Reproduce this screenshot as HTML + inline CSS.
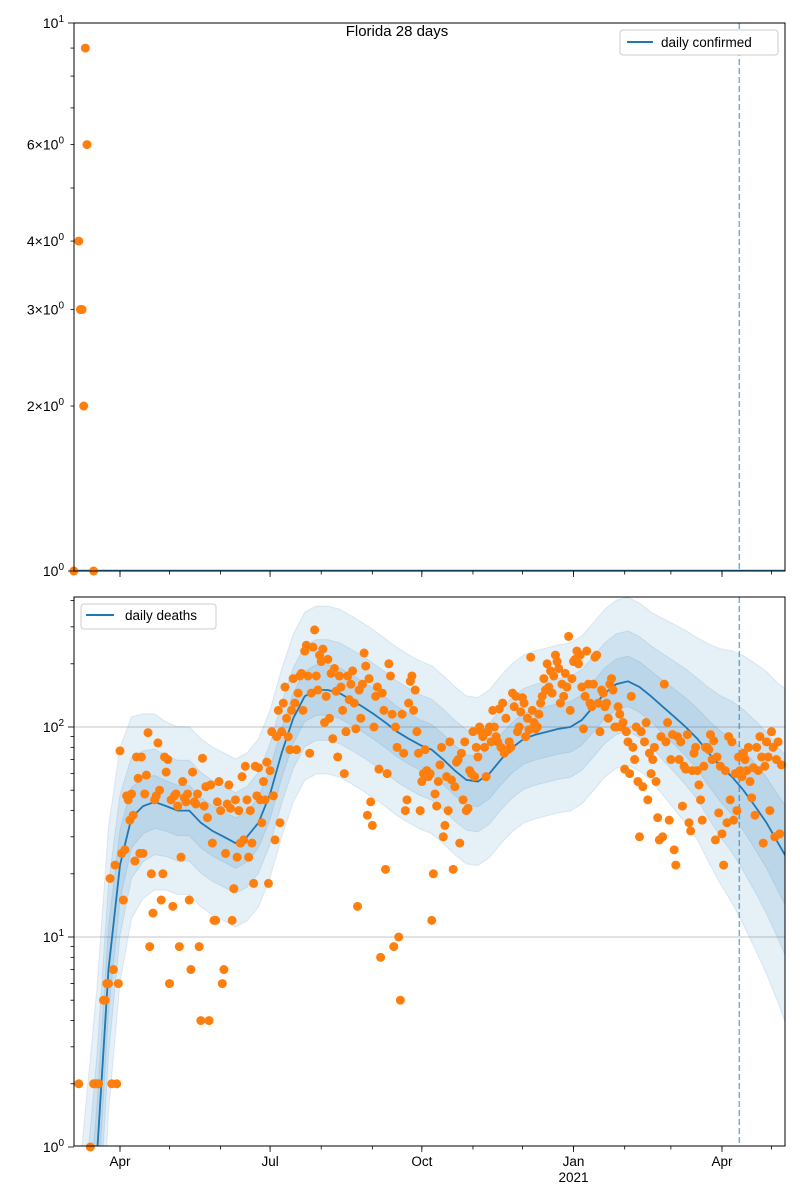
<!DOCTYPE html>
<html><head><meta charset="utf-8"><style>
body{margin:0;background:#fff;}
svg{display:block;font-family:"Liberation Sans","DejaVu Sans",sans-serif;}
</style></head><body>
<svg id="chart" width="800" height="1200" viewBox="0 0 800 1200" xmlns="http://www.w3.org/2000/svg">
<defs>
<clipPath id="clipTop"><rect x="74" y="23" width="711" height="548"/></clipPath>
<clipPath id="clipBot"><rect x="74" y="597" width="711" height="549"/></clipPath>
</defs>
<g id="topPanel"></g><g id="botPanel"></g>
</svg>
<script>
// ---- data ----
const monthTickDays = [28,58,89,119,150,181,211,242,272,303,334,362,393,423];
const majorTickDays = [28,119,211,303,393];
const majorTickLabels = ["Apr","Jul","Oct","Jan","Apr"];
const forecastDay = 403.5;
// top: daily confirmed (sparse points)
const confirmedDays = [0,3,4,5,6,7,8,12];
const confirmedVals = [1,4,3,3,2,9,6,1];
const confirmedLine = 1;
// bottom: weekly model line (days since 2020-03-04)
const lineDays = [0,7,14,21,28,35,42,49,56,63,70,77,84,91,98,105,112,119,126,133,140,147,154,161,168,175,182,189,196,203,210,217,224,231,238,245,252,259,266,273,280,287,294,301,308,315,322,329,336,343,350,357,364,371,378,385,392,399,406,413,420,427,432];
const lineVals = [0.05,0.2,0.9,7,22,37,42,44,42,40,40,35,32,30,28,30,35,48,75,110,140,150,150,145,135,125,115,105,95,88,82,78,70,62,56,55,60,70,80,88,92,95,98,100,108,125,145,160,165,155,140,125,112,100,88,75,65,58,50,42,35,28,24];
const spread = [2.2,2.2,2,1.7,1.4,1.2,1.1,1.05,1,1,1,1,1,1,1,1,1,1,1,1,1,1,1,1,1,1,1,1,1,1,1,1,1,1,1,1,1,1,1,1,1,1,1,1,1,1,1,1,1,1,1,1.05,1.1,1.15,1.2,1.3,1.4,1.5,1.6,1.7,1.8,1.9,2];
// daily deaths observed (weeks of 7 from day 0)
const deaths = [
null,null,null,2,null,null,null, null,null,null,1,null,2,2, 2,2,null,null,5,5,6, 6,19,2,7,22,2,6,
77,25,15,26,47,45,36, 48,38,23,72,57,25,72, 25,48,59,94,9,20,13, 45,47,84,50,15,20,72,
61,70,6,45,14,47,48, 42,9,24,55,46,44,48, 15,7,61,44,43,48,9, 4,71,42,52,37,4,53,
28,12,12,44,55,40,6, 7,25,43,53,41,12,17, 45,24,40,28,58,29,65, 45,24,40,28,18,65,47,
64,45,35,55,45,68,18, 62,95,47,29,90,120,35, 95,130,155,110,90,78,120, 170,130,78,145,175,180,120,
230,245,175,75,145,240,290, 175,150,220,205,235,105,140, 210,110,180,88,190,148,72, 175,155,120,60,95,175,135,
160,185,130,98,14,150,110, 160,225,195,38,170,44,34, 100,140,155,63,8,145,120, 21,60,200,175,115,9,100,
80,10,5,115,75,40,45, 130,165,175,120,150,95,75, 40,55,60,78,62,58,60, 12,20,48,42,55,66,80,
30,34,58,40,85,56,21, 52,68,70,28,75,45,85, 40,41,62,60,95,58,80, 72,100,95,90,80,58,95,
100,85,120,100,90,85,122, 80,130,75,110,78,85,80, 145,125,140,95,100,118,138, 130,90,110,97,215,120,105,
98,100,115,130,140,170,150, 200,155,185,145,175,220,205, 190,130,160,140,180,155,270, 120,170,205,210,230,200,220,
155,98,140,230,160,130,125, 160,215,220,130,95,150,145, 125,130,110,160,170,150,100, 100,125,115,100,105,63,95,
85,60,140,80,70,100,55, 30,95,52,85,105,45,75, 60,70,80,55,37,29,90, 30,160,85,105,36,70,92,
26,22,90,70,85,42,65, 63,92,35,32,62,75,80, 62,53,45,36,65,80,80, 78,92,70,86,29,72,39,
65,31,22,62,35,90,45, 85,36,60,40,72,62,58, 75,70,62,80,55,46,64, 38,80,62,90,72,28,65,
85,72,40,95,80,30,70, 85,31,66];

// ---- scales ----
const NS="http://www.w3.org/2000/svg";
const kx=(722-120)/(393-28), x0=120-28*kx;
const X=d=>x0+d*kx;
const Ytop=v=>571-548*Math.log10(v);
const Ybot=v=>1147-210*Math.log10(v);
function el(tag,attrs,parent,text){const e=document.createElementNS(NS,tag);for(const a in attrs)e.setAttribute(a,attrs[a]);if(text!==undefined)e.textContent=text;parent.appendChild(e);return e;}
const topG=document.getElementById('topPanel'), botG=document.getElementById('botPanel');

function sciLabel(parent,x,y,mant,exp,name){
  const t=el('text',{x:x,y:y,'text-anchor':'end','font-size':'14',fill:'#000'},parent);
  
  
  t.appendChild(document.createTextNode((mant?mant+'×':'')+'10'));
  el('tspan',{dy:'-6','font-size':'10'},t,String(exp));
}

function xAxis(parent,y,labels){
  monthTickDays.forEach(d=>{const t=el('line',{x1:X(d),x2:X(d),y1:y,y2:y+3.5,stroke:'#000','stroke-width':0.8},parent);
    });
  majorTickDays.forEach((d,i)=>{const t=el('line',{x1:X(d),x2:X(d),y1:y,y2:y+6,stroke:'#000','stroke-width':0.8},parent);
    
    if(labels){const l=el('text',{x:X(d),y:y+20,'text-anchor':'middle','font-size':'13.5'},parent,majorTickLabels[i]);
      }});
  if(labels){const l=el('text',{x:X(303),y:y+36,'text-anchor':'middle','font-size':'13.5'},parent,'2021');
    }
}

// ---- top panel ----
(function(){
  const g=el('g',{'clip-path':'url(#clipTop)'},topG);
  const ln=el('line',{x1:74,x2:785,y1:Ytop(confirmedLine),y2:Ytop(confirmedLine),stroke:'#1f77b4','stroke-width':2.5},g);
  
  const fl=el('line',{x1:X(forecastDay),x2:X(forecastDay),y1:23,y2:571,stroke:'#1f77b4','stroke-opacity':0.6,'stroke-width':1.5,'stroke-dasharray':'6,3'},topG);
  
  const pg=el('g',{},topG);
  confirmedDays.forEach((d,i)=>{const c=el('circle',{cx:X(d),cy:Ytop(confirmedVals[i]),r:4.5,fill:'#ff7f0e'},pg);
    });
  const fr=el('rect',{x:74,y:23,width:711,height:548,fill:'none',stroke:'#000','stroke-width':1},topG);
  
  [2,3,4,5,6,7,8,9].forEach(v=>{const t=el('line',{x1:70.5,x2:74,y1:Ytop(v),y2:Ytop(v),stroke:'#000','stroke-width':0.8},topG);
    });
  [1,10].forEach(v=>{const t=el('line',{x1:68,x2:74,y1:Ytop(v),y2:Ytop(v),stroke:'#000','stroke-width':0.8},topG);
    });
  sciLabel(topG,64,Ytop(10)+5,'',1,'y-tick-label');
  sciLabel(topG,64,Ytop(1)+5,'',0,'y-tick-label');
  [2,3,4,6].forEach(v=>sciLabel(topG,64,Ytop(v)+5,v,0,'y-tick-label'));
  xAxis(topG,571,false);
  const ti=el('text',{x:397,y:36,'text-anchor':'middle','font-size':'15'},topG,'Florida 28 days');
  
  const lg=el('g',{},topG);
  el('rect',{x:620,y:30,width:158,height:25,rx:3,fill:'#fff',stroke:'#ccc'},lg);
  el('line',{x1:627,x2:653,y1:42,y2:42,stroke:'#1f77b4','stroke-width':2},lg);
  el('text',{x:661,y:47,'font-size':'13.5'},lg,'daily confirmed');
})();

// ---- bottom panel ----
(function(){
  const g=el('g',{'clip-path':'url(#clipBot)'},botG);
  [10,100].forEach(v=>{const gl=el('line',{x1:74,x2:785,y1:Ybot(v),y2:Ybot(v),stroke:'#b0b0b0','stroke-width':0.8},g);
    });
  const widths=[0.4,0.24,0.12];
  widths.forEach((w,bi)=>{
    let up='',lo='';
    lineDays.forEach((d,i)=>{const lv=Math.log10(lineVals[i]);
      up+=(i?'L':'M')+X(d).toFixed(1)+','+Ybot(Math.pow(10,lv+w*spread[i])).toFixed(1);});
    for(let i=lineDays.length-1;i>=0;i--){const lv=Math.log10(lineVals[i]);
      lo+='L'+X(lineDays[i]).toFixed(1)+','+Ybot(Math.pow(10,lv-w*spread[i])).toFixed(1);}
    const p=el('path',{d:up+lo+'Z',fill:'#1f77b4','fill-opacity':0.11,stroke:'#1f77b4','stroke-opacity':0.12},g);
    
  });
  let dd='';lineDays.forEach((d,i)=>{dd+=(i?'L':'M')+X(d).toFixed(1)+','+Ybot(lineVals[i]).toFixed(1);});
  const ml=el('path',{d:dd,fill:'none',stroke:'#1f77b4','stroke-width':1.8},g);
  
  const fl=el('line',{x1:X(forecastDay),x2:X(forecastDay),y1:597,y2:1146,stroke:'#1f77b4','stroke-opacity':0.6,'stroke-width':1.5,'stroke-dasharray':'6,3'},botG);
  
  const pg=el('g',{},botG);
  deaths.forEach((v,d)=>{if(v===null||X(d)>786)return;
    const c=el('circle',{cx:X(d),cy:Ybot(v),r:4.5,fill:'#ff7f0e'},pg);
    });
  const fr=el('rect',{x:74,y:597,width:711,height:549,fill:'none',stroke:'#000','stroke-width':1},botG);
  
  [1,10,100].forEach(dec=>[2,3,4,5,6,7,8,9].forEach(m=>{const v=dec*m;if(Ybot(v)<597)return;
    const t=el('line',{x1:70.5,x2:74,y1:Ybot(v),y2:Ybot(v),stroke:'#000','stroke-width':0.8},botG);
    }));
  [[1,0],[10,1],[100,2]].forEach(([v,e])=>{const t=el('line',{x1:68,x2:74,y1:Ybot(v),y2:Ybot(v),stroke:'#000','stroke-width':0.8},botG);
    
    sciLabel(botG,64,Ybot(v)+5,'',e,'y-tick-label');});
  xAxis(botG,1146,true);
  const lg=el('g',{},botG);
  el('rect',{x:81,y:604,width:135,height:25,rx:3,fill:'#fff',stroke:'#ccc'},lg);
  el('line',{x1:86,x2:114,y1:615,y2:615,stroke:'#1f77b4','stroke-width':2},lg);
  el('text',{x:125,y:620,'font-size':'13.5'},lg,'daily deaths');
})();
</script>
</body></html>
